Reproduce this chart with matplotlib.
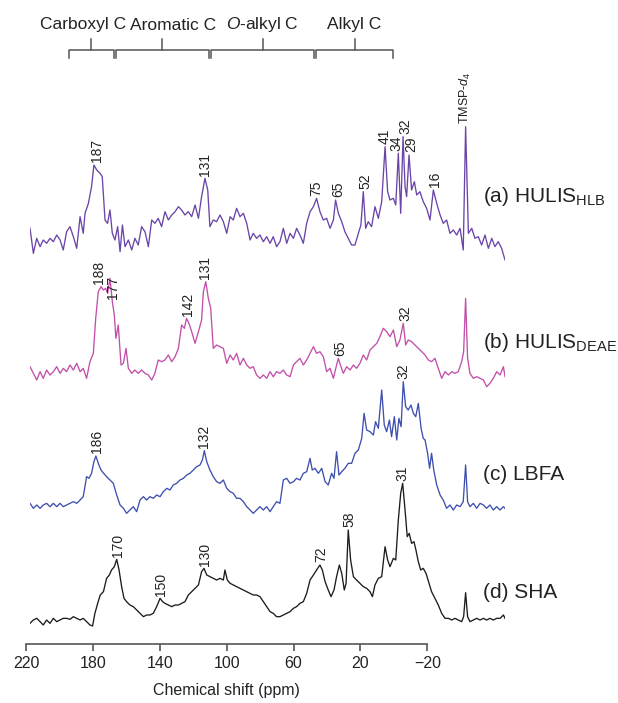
import matplotlib
matplotlib.use("Agg")
import matplotlib.pyplot as plt
import matplotlib.transforms as mtransforms
import numpy as np

plt.rcParams.update({
    "font.family": "Liberation Sans",
    "mathtext.fontset": "custom",
    "mathtext.rm": "Liberation Sans",
    "mathtext.it": "Liberation Sans:italic",
})

# --- spectra: chemical shift (ppm) and intensity (a.u.) ---
ppm_a = [220.0, 218.3, 216.6, 214.9, 213.3, 211.6, 209.9, 208.2, 206.5, 204.8, 203.2, 201.5, 199.8, 198.1,
         196.4, 194.7, 193.1, 192.2, 190.5, 188.9, 187.7, 186.3, 184.6, 183.5, 182.1, 180.8, 179.6, 178.4,
         177.1, 175.7, 174.5, 173.3, 172.0, 170.3, 168.6, 167.0, 165.3, 163.6, 161.9, 160.2, 158.5, 156.9,
         155.2, 153.5, 151.8, 150.1, 148.4, 146.7, 145.0, 143.4, 141.7, 140.0, 138.3, 136.6, 134.9, 133.3,
         131.6, 130.2, 129.1, 127.4, 125.7, 124.0, 122.3, 120.6, 118.9, 117.3, 115.6, 113.9, 112.2, 110.5,
         108.8, 107.2, 105.5, 103.8, 102.1, 100.4, 98.7, 97.1, 95.4, 93.7, 92.0, 90.3, 88.6, 86.9, 85.3,
         83.6, 81.9, 80.2, 78.5, 76.8, 75.2, 73.5, 71.8, 70.1, 68.4, 66.7, 65.6, 64.2, 62.5, 60.9, 59.2,
         57.5, 55.8, 54.1, 52.8, 51.6, 50.4, 49.1, 47.4, 45.7, 44.0, 42.3, 40.6, 39.3, 38.1, 36.4, 35.2,
         33.9, 32.7, 31.5, 30.5, 29.7, 28.5, 27.2, 25.8, 24.6, 23.0, 21.3, 19.6, 17.9, 16.2, 14.5, 12.8,
         11.2, 9.5, 7.8, 6.1, 4.4, 2.7, 1.1, -0.1, -1.5, -3.2, -4.8, -6.5, -8.2, -9.9, -11.6, -13.3, -14.9,
         -16.6, -18.3, -20.0]
int_a = [75, 0, 45, 20, 40, 30, 45, 35, 55, 40, 10, 65, 80, 50,
         15, 110, 60, 120, 150, 200, 265, 250, 240, 230, 100, 90, 130, 60,
         40, 80, 5, 85, 20, 40, 10, 45, 25, 80, 65, 20, 100, 90,
         105, 80, 125, 100, 115, 125, 140, 130, 115, 125, 110, 145, 105, 170,
         225, 190, 80, 100, 95, 115, 95, 60, 110, 100, 135, 110, 120, 90,
         40, 60, 45, 55, 35, 50, 30, 50, 20, 35, 75, 30, 60, 45, 75,
         55, 30, 90, 125, 140, 165, 125, 100, 105, 75, 100, 160, 120, 95, 65, 45,
         25, 25, 60, 85, 185, 75, 95, 80, 140, 105, 155, 320, 185, 160, 165, 145,
         300, 120, 350, 200, 170, 295, 190, 215, 175, 185, 155, 135, 100, 190, 150, 115,
         90, 100, 60, 70, 55, 75, 10, 380, 60, 75, 45, 50, 25, 55, 15, 45, 20,
         35, 15, -20]

ppm_b = [220.0, 218.3, 216.6, 214.9, 213.3, 211.6, 209.9, 208.2, 206.5, 204.8, 203.2, 201.5, 199.8, 198.1,
         196.4, 194.7, 193.1, 191.4, 189.7, 188.0, 186.8, 185.5, 184.1, 182.9, 181.8, 180.8, 179.6, 178.4,
         177.4, 176.6, 175.4, 174.0, 172.8, 171.5, 170.3, 168.6, 167.0, 165.3, 163.6, 161.9, 160.2, 158.5,
         156.9, 155.2, 153.5, 151.8, 150.1, 148.4, 146.7, 145.0, 143.4, 142.0, 140.9, 139.7, 138.3, 136.6,
         134.9, 133.3, 132.4, 131.2, 129.9, 128.7, 127.4, 125.7, 124.0, 122.3, 120.6, 118.9, 117.3, 115.6,
         113.9, 112.2, 110.5, 108.8, 107.2, 105.5, 103.8, 102.1, 100.4, 98.7, 97.1, 95.4, 93.7, 92.0, 90.3,
         88.6, 86.9, 85.3, 83.6, 81.9, 80.2, 78.5, 76.8, 75.2, 73.5, 71.8, 70.1, 68.4, 66.7, 65.1, 64.2,
         62.9, 61.7, 60.0, 58.3, 56.6, 55.0, 53.3, 51.6, 49.9, 48.2, 46.5, 44.8, 43.2, 41.5, 39.8, 38.1,
         36.4, 34.7, 33.1, 31.4, 30.2, 28.9, 27.2, 25.5, 23.8, 22.1, 20.4, 18.7, 17.1, 15.4, 13.7, 12.0,
         10.3, 8.6, 6.9, 5.3, 3.6, 1.9, 0.9, -0.1, -1.1, -2.3, -4.0, -5.7, -7.4, -9.1, -10.7, -12.4, -14.1,
         -15.8, -17.5, -19.2, -20.0]
int_b = [55, 35, 15, 40, 20, 45, 30, 40, 55, 35, 50, 40, 60, 45,
         65, 40, 50, 20, 70, 95, 200, 280, 295, 285, 290, 275, 320, 250,
         210, 140, 180, 60, 65, 110, 50, 35, 45, 35, 45, 35, 30, 15,
         35, 75, 70, 75, 90, 70, 85, 110, 180, 170, 200, 185, 160, 125,
         160, 195, 280, 310, 260, 230, 110, 120, 115, 110, 65, 90, 75, 95,
         60, 80, 60, 50, 55, 30, 20, 30, 20, 40, 25, 40, 35, 45, 30,
         25, 60, 70, 80, 60, 75, 95, 115, 95, 100, 85, 40, 50, 20, 60, 80,
         55, 35, 55, 45, 60, 50, 65, 90, 75, 105, 115, 125, 145, 170, 160, 145,
         165, 115, 135, 185, 120, 135, 130, 120, 110, 100, 90, 75, 70, 80, 50, 20,
         40, 30, 40, 35, 40, 70, 100, 260, 80, 35, 20, 25, 20, 15, -5, 5, 20,
         40, 30, 55, 25]

ppm_c = [220.0, 218.3, 216.6, 214.9, 213.3, 211.6, 209.9, 208.2, 206.5, 204.8, 203.2, 201.5, 199.8, 198.1,
         196.4, 194.7, 193.1, 191.4, 190.2, 188.9, 187.7, 186.7, 185.5, 184.1, 182.8, 181.3, 179.6, 177.9,
         176.2, 174.5, 172.8, 171.2, 169.5, 167.8, 166.1, 164.4, 162.7, 161.1, 159.4, 157.7, 156.0, 154.3,
         152.6, 150.9, 149.3, 147.6, 145.9, 144.2, 142.5, 140.8, 139.2, 137.5, 135.8, 134.1, 132.9, 131.9,
         130.7, 129.1, 127.4, 125.7, 124.0, 122.3, 120.6, 118.9, 117.3, 115.6, 113.9, 112.2, 110.5, 108.8,
         107.2, 105.5, 103.8, 102.1, 100.4, 98.7, 97.1, 95.4, 93.7, 92.0, 90.3, 88.6, 86.9, 85.3, 83.6,
         81.9, 80.2, 78.5, 77.4, 76.0, 74.3, 72.6, 70.9, 69.3, 67.6, 66.4, 65.1, 63.9, 62.5, 60.9, 59.2,
         57.5, 55.8, 54.1, 52.4, 51.2, 49.9, 48.2, 46.5, 45.4, 44.0, 42.3, 41.0, 39.8, 38.4, 37.3, 35.9,
         34.7, 33.6, 32.5, 31.4, 30.2, 28.9, 27.5, 26.3, 25.1, 23.8, 22.4, 21.3, 20.4, 19.1, 18.1, 17.1,
         16.0, 14.5, 12.8, 11.2, 9.5, 7.8, 6.1, 4.4, 2.7, 1.1, -0.1, -1.1, -2.3, -4.0, -5.7, -7.4, -9.1,
         -10.7, -12.4, -14.1, -15.8, -17.5, -19.2, -20.0]
int_c = [30, 15, 25, 15, 25, 30, 20, 30, 20, 30, 20, 25, 30, 35,
         30, 40, 50, 110, 105, 120, 155, 172, 150, 130, 120, 110, 100, 90,
         55, 25, 15, 0, 10, 20, 5, 40, 50, 40, 50, 45, 55, 50,
         65, 75, 70, 85, 90, 100, 105, 115, 120, 130, 140, 145, 160, 188,
         155, 130, 110, 95, 90, 100, 75, 65, 60, 45, 45, 35, 20, 10,
         0, 10, 20, 10, 20, 5, 20, 35, 30, 100, 105, 90, 95, 105, 100,
         120, 125, 165, 130, 135, 120, 135, 95, 85, 120, 105, 185, 115, 125, 135, 150,
         150, 180, 190, 225, 300, 250, 245, 235, 275, 255, 370, 265, 245, 280, 230, 290,
         220, 285, 260, 395, 320, 310, 325, 300, 290, 330, 255, 225, 220, 180, 135, 180,
         130, 85, 55, 40, 15, 25, 10, 25, 20, 35, 145, 35, 20, 30, 15, 30, 25,
         15, 25, 10, 20, 10, 20, 15]

ppm_d = [220.0, 218.3, 216.6, 214.9, 213.3, 211.6, 209.9, 208.2, 206.5, 204.8, 203.2, 201.5, 199.8, 198.1,
         196.4, 194.7, 193.1, 191.4, 189.7, 188.4, 187.2, 185.8, 184.5, 182.9, 181.3, 179.9, 178.8, 177.4,
         176.2, 175.0, 173.7, 172.5, 171.2, 169.5, 167.8, 166.1, 164.4, 162.7, 161.1, 159.4, 157.7, 156.0,
         154.3, 153.0, 151.8, 150.1, 148.4, 146.7, 145.0, 143.4, 141.7, 140.0, 138.3, 136.6, 134.9, 133.3,
         132.1, 130.7, 129.1, 127.4, 125.7, 124.0, 122.3, 121.5, 120.3, 118.9, 117.3, 115.6, 113.9, 112.2,
         110.5, 108.8, 107.2, 105.5, 103.8, 102.1, 100.4, 98.7, 97.1, 95.4, 93.7, 92.0, 90.3, 88.6, 86.9,
         85.3, 83.6, 81.9, 80.2, 78.5, 76.8, 75.2, 73.5, 72.3, 70.9, 69.3, 67.9, 66.4, 65.1, 63.7, 62.5,
         61.2, 60.3, 59.2, 58.0, 56.6, 55.0, 53.3, 51.6, 49.9, 48.2, 47.0, 45.7, 44.0, 42.3, 40.6, 39.3,
         38.1, 36.4, 35.2, 33.9, 32.7, 31.7, 30.5, 29.4, 28.4, 27.2, 26.0, 25.0, 23.8, 22.6, 21.3, 19.9,
         18.4, 17.1, 15.4, 13.7, 12.0, 10.3, 8.6, 6.9, 5.3, 3.6, 1.9, 0.9, -0.1, -1.1, -2.3, -4.0, -5.7,
         -7.4, -9.1, -10.7, -12.4, -14.1, -15.8, -17.5, -19.2, -20.0]
int_d = [5, 15, 20, 10, 0, 15, 5, 20, 10, 15, 20, 20, 17, 25,
         20, 15, 20, 10, 0, -3, 35, 65, 90, 100, 140, 150, 165, 175,
         197, 165, 115, 80, 70, 60, 55, 45, 35, 25, 30, 30, 35, 55,
         80, 70, 65, 60, 55, 60, 60, 65, 70, 90, 100, 110, 120, 160,
         170, 150, 145, 140, 135, 140, 135, 165, 135, 125, 120, 115, 110, 105,
         100, 95, 90, 90, 85, 70, 55, 40, 35, 25, 25, 30, 35, 40, 50,
         55, 65, 70, 95, 135, 150, 165, 180, 165, 130, 105, 85, 105, 145, 180, 155,
         105, 125, 285, 195, 145, 135, 125, 115, 110, 100, 85, 120, 140, 145, 235, 195,
         175, 200, 195, 315, 395, 425, 345, 265, 275, 245, 250, 225, 190, 165, 170, 155,
         125, 100, 80, 60, 35, 20, 20, 15, 20, 15, 10, 25, 97, 25, 10, 15, 20,
         15, 20, 15, 20, 15, 20, 20, 30, 20]

names = [r"(a) HULIS$_{\mathrm{HLB}}$", r"(b) HULIS$_{\mathrm{DEAE}}$", "(c) LBFA", "(d) SHA"]
colors = ["#6a45a8", "#c24fa9", "#3e4fae", "#1c1c1c"]

# peak labels: text and where they sit along the shift axis (ppm)
peaks_a = ["187", "131", "75", "65", "52", "41", "34", "32", "29", "16"]
peaks_a_ppm = [186.3, 131.6, 75.2, 64.2, 50.7, 41.0, 34.7, 30.5, 27.2, 15.4]
peaks_b = ["188", "177", "142", "131", "65", "32"]
peaks_b_ppm = [185.1, 177.9, 140.3, 131.6, 63.4, 30.5]
peaks_c = ["186", "132", "32"]
peaks_c_ppm = [186.3, 131.9, 31.5]
peaks_d = ["170", "150", "130", "72", "58", "31"]
peaks_d_ppm = [175.7, 153.8, 131.6, 73.0, 58.8, 32.0]

# functional-group regions on the ppm ruler
regions = ["Carboxyl C", "Aromatic C", r"$\mathit{O}$-alkyl C", "Alkyl C"]
region_edges = [195, 167, 110, 47, 0]
region_label_ppm = [186.1, 132.3, 78.7, 23.6]

ruler_ticks = [220, 180, 140, 100, 60, 20, -20]

W, H = 618, 703
fig = plt.figure(figsize=(W / 100, H / 100), dpi=100)

# stacked spectra
ax = fig.add_axes([30 / W, 0, 475 / W, 1])
ax.set_xlim(220, -20)
ax.set_ylim(0, 3 * H)
ax.axis("off")

spectra = [(ppm_a, int_a, peaks_a, peaks_a_ppm),
           (ppm_b, int_b, peaks_b, peaks_b_ppm),
           (ppm_c, int_c, peaks_c, peaks_c_ppm),
           (ppm_d, int_d, peaks_d, peaks_d_ppm)]
baselines = [1349, 954, 569, 234]
name_y = [196, 343, 475, 592]

for (x, y, labs, lab_ppm), base, col, nm, ny in zip(spectra, baselines, colors, names, name_y):
    x = np.array(x)
    y = np.array(y) + base
    ax.plot(x, y, color=col, lw=0.95)
    for t, p in zip(labs, lab_ppm):
        top = y[np.abs(x - p) <= 1.6].max()
        ax.annotate(t, (p, top), xytext=(0, 2), textcoords="offset points",
                    rotation=90, ha="center", va="bottom", fontsize=10, color="#222222")
    fig.text(483 / W, 1 - ny / H, nm, fontsize=15, va="center", ha="left", color="#222222")

# TMSP reference peak label on (a)
xa, ya = np.array(ppm_a), np.array(int_a) + baselines[0]
ax.annotate(r"TMSP-$\mathit{d}_4$", (-0.1, ya[np.abs(xa + 0.1) <= 1.0].max()), xytext=(0, 2),
            textcoords="offset points", rotation=90, ha="center", va="bottom",
            fontsize=9, color="#222222")

# shift ruler at the bottom
ax_r = fig.add_axes([26 / W, 1 - 644 / H, 401.3 / W, 0.02])
ax_r.set_xlim(220, -20)
ax_r.set_ylim(0, 1)
ax_r.patch.set_visible(False)
for s in ["top", "left", "right"]:
    ax_r.spines[s].set_visible(False)
ax_r.spines["bottom"].set_color("#555555")
ax_r.spines["bottom"].set_linewidth(1.2)
ax_r.set_yticks([])
ax_r.set_xticks(ruler_ticks)
ax_r.set_xticklabels([str(t) if t >= 0 else "\u2212" + str(-t) for t in ruler_ticks])
ax_r.tick_params(axis="x", direction="out", length=5, width=1.2, color="#555555",
                 labelsize=11.5, pad=4, labelcolor="#222222")
ax_r.set_xlabel("Chemical shift (ppm)", fontsize=11.5, labelpad=8, color="#222222")

# region brackets
tr = mtransforms.blended_transform_factory(ax_r.transData, fig.transFigure)
y_top, y_end, y_up = 1 - 50 / H, 1 - 58 / H, 1 - 39 / H
for i, name in enumerate(regions):
    x0, x1 = region_edges[i] - 0.6, region_edges[i + 1] + 0.6
    xm = (x0 + x1) / 2
    ax_r.plot([x0, x0, x1, x1], [y_end, y_top, y_top, y_end], transform=tr,
              color="#555555", lw=1.1, clip_on=False, solid_joinstyle="round")
    ax_r.plot([xm, xm], [y_top, y_up], transform=tr, color="#555555", lw=1.1, clip_on=False)
    ax_r.text(region_label_ppm[i], 1 - 25 / H, name, transform=tr,
              ha="center", va="center", fontsize=12.5, color="#222222")

fig.savefig("out.png", dpi=100)
